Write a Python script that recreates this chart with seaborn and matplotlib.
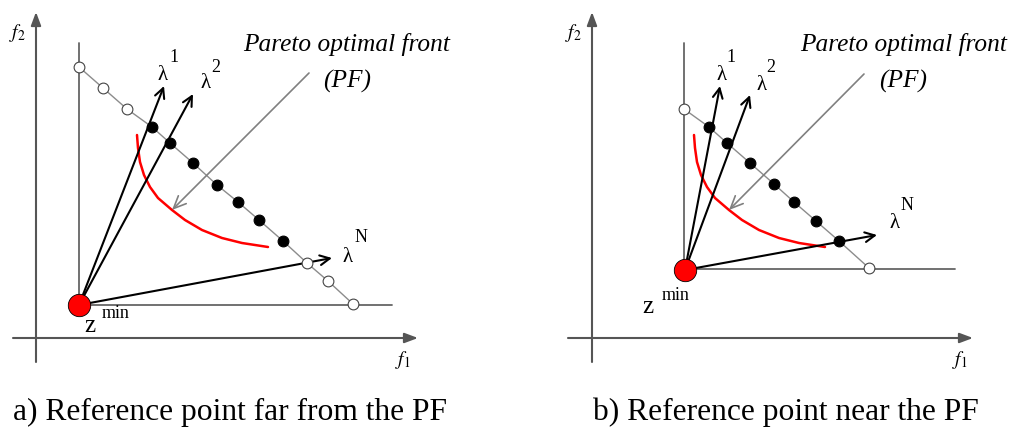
import numpy as np
import pandas as pd
import matplotlib
matplotlib.use("Agg")
import matplotlib.pyplot as plt
import seaborn as sns

# Diagram values, in pixel units of the 1011x430 canvas (y grows downward)

# panel a) reference point far from the PF
front_x_a = [79, 103, 127, 152, 170, 193, 217, 238, 259, 283, 307, 328, 353]
front_y_a = [67, 88, 109, 127, 143, 163, 185, 202, 220, 241, 263, 281, 304]
filled_a = [False, False, False, True, True, True, True, True, True, True, False, False, False]
pf_x_a = [137, 138, 140, 144, 150, 158, 172, 185, 202, 222, 242, 268]
pf_y_a = [135, 148, 162, 175, 187, 198, 210, 220, 230, 238, 243, 247]
zmin_a = (79, 305)
lam_tip_x_a = [164, 193, 332]
lam_tip_y_a = [86, 94, 258]

# panel b) reference point near the PF
front_x_b = [684, 709, 727, 750, 774, 794, 816, 839, 869]
front_y_b = [109, 127, 143, 163, 184, 202, 221, 241, 268]
filled_b = [False, True, True, True, True, True, True, True, False]
pf_x_b = [694, 695, 697, 701, 707, 715, 729, 742, 759, 779, 799, 825]
pf_y_b = [135, 148, 162, 175, 187, 198, 210, 220, 230, 238, 243, 247]
zmin_b = (685, 270)
lam_tip_x_b = [720, 750, 877]
lam_tip_y_b = [86, 95, 235]

lam_sups = ["1", "2", "N"]
captions = ["a) Reference point far from the PF", "b) Reference point near the PF"]

sns.set_style("white")
plt.rcParams["font.family"] = ["Liberation Serif", "DejaVu Serif"]
plt.rcParams["mathtext.fontset"] = "stix"
plt.rcParams["text.color"] = "black"

fig = plt.figure(figsize=(10.11, 4.30), dpi=100)
ax = fig.add_axes([0, 0, 1, 1])
ax.set_xlim(0, 1011)
ax.set_ylim(430, 0)
ax.axis("off")

axis_col = "#555555"
grid_col = "#666666"
diag_col = "#8c8c8c"


def arrow(x0, y0, x1, y1, color, lw, style, z=3):
    ax.annotate("", xy=(x1, y1), xytext=(x0, y0),
                arrowprops=dict(arrowstyle=style, color=color, lw=lw,
                                shrinkA=0, shrinkB=0), zorder=z)


panels = [
    dict(ox=36, oxl=13, oxr=418, fx=(403, 360), f2=(17, 33),
         inner_x=79, inner_top=43, inner_y=305, inner_right=392,
         fx_front=front_x_a, fy_front=front_y_a, filled=filled_a,
         pfx=pf_x_a, pfy=pf_y_a, z=zmin_a, tx=lam_tip_x_a, ty=lam_tip_y_a,
         lam_lab=[(163, 76), (206, 84), (348, 258)],
         sup_lab=[(174, 58), (216, 67), (361, 238)],
         zlab=(90, 326), minlab=(102, 313),
         pf_arrow=(309, 73, 172, 210), pf_text=(243, 45), pf_abbr=(347, 81),
         cap=(13, 412)),
    dict(ox=592, oxl=568, oxr=973, fx=(960, 360), f2=(573, 33),
         inner_x=684, inner_top=43, inner_y=269, inner_right=955,
         fx_front=front_x_b, fy_front=front_y_b, filled=filled_b,
         pfx=pf_x_b, pfy=pf_y_b, z=zmin_b, tx=lam_tip_x_b, ty=lam_tip_y_b,
         lam_lab=[(722, 75), (762, 85), (895, 224)],
         sup_lab=[(731, 58), (771, 68), (907, 205)],
         zlab=(648, 307), minlab=(662, 295),
         pf_arrow=(864, 74, 729, 210), pf_text=(800, 45), pf_abbr=(903, 81),
         cap=(593, 412)),
]

for i, p in enumerate(panels):
    # outer coordinate axes
    arrow(p["ox"], 362, p["ox"], 12, axis_col, 1.5, "-|>,head_length=0.8,head_width=0.3")
    arrow(p["oxl"], 338, p["oxr"], 338, axis_col, 1.5, "-|>,head_length=0.8,head_width=0.3")
    ax.text(p["f2"][0], p["f2"][1], "$f_2$", fontsize=14, ha="center", va="center")
    ax.text(p["fx"][0], p["fx"][1], "$f_1$", fontsize=14, ha="center", va="center")

    # inner lines through z_min
    ax.plot([p["inner_x"], p["inner_x"]], [p["inner_top"], p["inner_y"]],
            color=grid_col, lw=1.3, zorder=2)
    ax.plot([p["inner_x"], p["inner_right"]], [p["inner_y"], p["inner_y"]],
            color=grid_col, lw=1.3, zorder=2)

    # weight vector points on the hyperplane
    df = pd.DataFrame({"x": p["fx_front"], "y": p["fy_front"], "filled": p["filled"]})
    sns.lineplot(data=df, x="x", y="y", sort=False, color=diag_col, lw=1.0,
                 ax=ax, zorder=2)
    sns.scatterplot(data=df[~df["filled"]], x="x", y="y", s=60, color="white",
                    edgecolor="#444444", linewidth=0.8, ax=ax, zorder=4)
    sns.scatterplot(data=df[df["filled"]], x="x", y="y", s=60, color="black",
                    edgecolor="black", linewidth=0.8, ax=ax, zorder=4)

    # Pareto front curve
    sns.lineplot(x=p["pfx"], y=p["pfy"], sort=False, color="red", lw=1.8,
                 ax=ax, zorder=3)

    # weight vectors
    for tx, ty in zip(p["tx"], p["ty"]):
        arrow(p["z"][0], p["z"][1], tx, ty, "black", 1.5,
              "->,head_length=0.7,head_width=0.35", z=3)
    for (lx, ly), (sx, sy), sup in zip(p["lam_lab"], p["sup_lab"], lam_sups):
        ax.text(lx, ly, "λ", fontsize=15, ha="center", va="center")
        ax.text(sx, sy, sup, fontsize=13, ha="center", va="center")

    # reference point
    sns.scatterplot(x=[p["z"][0]], y=[p["z"][1]], s=260, color="red",
                    edgecolor="black", linewidth=0.6, ax=ax, zorder=5)
    ax.text(p["zlab"][0], p["zlab"][1], "z", fontsize=18, ha="center", va="center")
    ax.text(p["minlab"][0], p["minlab"][1], "min", fontsize=13, ha="left", va="center")

    # PF annotation
    x0, y0, x1, y1 = p["pf_arrow"]
    arrow(x0, y0, x1, y1, "#808080", 1.2, "->,head_length=0.9,head_width=0.4")
    ax.text(p["pf_text"][0], p["pf_text"][1], "Pareto optimal front", fontsize=18.3,
            style="italic", ha="left", va="center")
    ax.text(p["pf_abbr"][0], p["pf_abbr"][1], "(PF)", fontsize=18.3,
            style="italic", ha="center", va="center")

    ax.text(p["cap"][0], p["cap"][1], captions[i], fontsize=22.7, ha="left", va="center")

fig.savefig("out.png", dpi=100)
